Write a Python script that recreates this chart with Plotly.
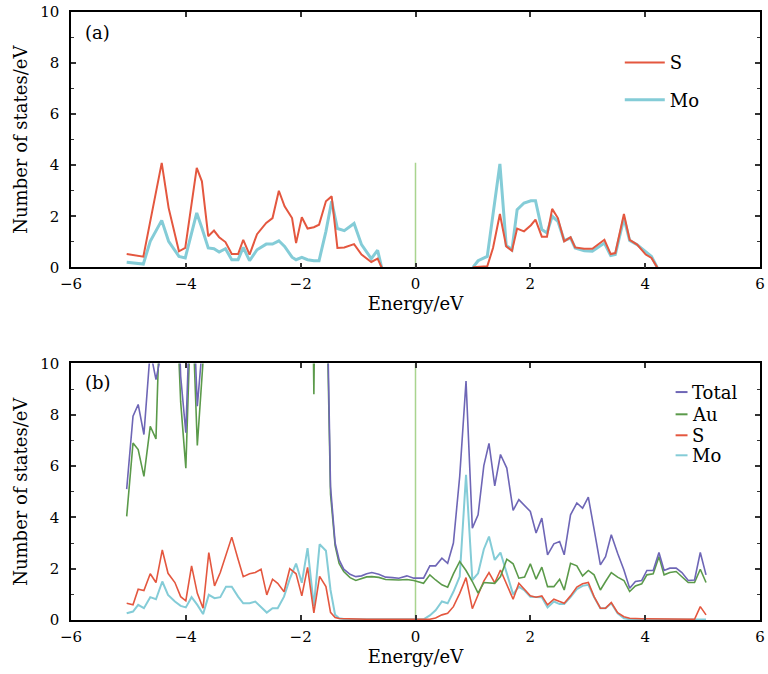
import plotly.graph_objects as go

# ---------------- Panel (a): MoS2 ----------------
ea_left = [-5.03, -4.74, -4.62, -4.42, -4.30, -4.12, -4.01, -3.81, -3.72, -3.61, -3.51, -3.42,
           -3.31, -3.20, -3.09, -3.00, -2.89, -2.76, -2.60, -2.49, -2.38, -2.28, -2.15, -2.08,
           -1.98, -1.88, -1.77, -1.68, -1.56, -1.46, -1.36, -1.24, -1.07, -0.94, -0.77, -0.66, -0.59]
s_a_left = [0.52, 0.42, 1.8, 4.09, 2.33, 0.63, 0.76, 3.9, 3.37, 1.22, 1.44, 1.18,
            0.99, 0.52, 0.52, 1.08, 0.5, 1.3, 1.74, 1.93, 3.0, 2.39, 1.93, 0.95,
            1.96, 1.52, 1.57, 1.67, 2.59, 2.78, 0.76, 0.78, 0.91, 0.5, 0.21, 0.34, 0.0]
mo_a_left = [0.2, 0.13, 1.02, 1.84, 1.02, 0.43, 0.37, 2.13, 1.54, 0.76, 0.73, 0.6,
             0.73, 0.3, 0.3, 0.78, 0.26, 0.69, 0.91, 0.91, 1.04, 0.82, 0.4, 0.3,
             0.39, 0.3, 0.26, 0.26, 1.41, 2.59, 1.52, 1.44, 1.72, 0.89, 0.34, 0.67, 0.0]

ea_right = [1.00, 1.09, 1.25, 1.35, 1.47, 1.58, 1.68, 1.77, 1.89, 2.01, 2.09, 2.20, 2.29, 2.38,
            2.48, 2.59, 2.70, 2.78, 2.94, 3.08, 3.29, 3.40, 3.48, 3.63, 3.73, 3.86, 4.01, 4.11, 4.21]
s_a_right = [0.0, 0.02, 0.04, 0.76, 2.09, 0.82, 0.65, 1.52, 1.41, 1.65, 1.87, 1.2, 1.2, 2.29,
             1.93, 1.02, 1.18, 0.78, 0.73, 0.73, 1.08, 0.52, 0.56, 2.09, 1.08, 0.89, 0.5, 0.37, 0.0]
mo_a_right = [0.0, 0.26, 0.43, 2.1, 4.05, 0.86, 0.69, 2.26, 2.52, 2.61, 2.61, 1.48, 1.35, 2.0,
              1.8, 1.05, 1.15, 0.76, 0.65, 0.63, 0.95, 0.46, 0.5, 1.93, 1.05, 0.89, 0.63, 0.43, 0.0]

fermi_x = [0, 0]
fermi_a = [0, 4.1]
fermi_b = [0, 10]

# ---------------- Panel (b): Au / MoS2 ----------------
eb = [-5.03, -4.92, -4.83, -4.73, -4.62, -4.52, -4.41, -4.31, -4.19, -4.09,
      -4.00, -3.90, -3.80, -3.70, -3.60, -3.50, -3.40, -3.30, -3.20, -3.09,
      -3.00, -2.89, -2.79, -2.69, -2.59, -2.49, -2.40, -2.29, -2.19, -2.08,
      -1.98, -1.88, -1.77, -1.67, -1.56, -1.48, -1.40, -1.33, -1.25, -1.14,
      -1.04, -0.94, -0.85, -0.76, -0.64, -0.52, -0.40, -0.29, -0.15, -0.03,
      0.14, 0.25, 0.35, 0.46, 0.56, 0.66, 0.77, 0.88, 0.99, 1.09,
      1.19, 1.28, 1.38, 1.48, 1.59, 1.70, 1.80, 1.90, 2.00, 2.10,
      2.20, 2.30, 2.41, 2.51, 2.59, 2.70, 2.81, 2.91, 3.01, 3.11,
      3.22, 3.31, 3.41, 3.52, 3.63, 3.73, 3.83, 3.94, 4.03, 4.14,
      4.24, 4.33, 4.43, 4.54, 4.64, 4.75, 4.86, 4.96, 5.06]

total_b = [5.1, 7.94, 8.4, 7.23, 10.5, 9.37, 10.6, 18, 16, 9.5,
           7.3, 14, 8.33, 11, 20, 22, 24, 22, 26, 24,
           22, 27, 24, 22, 26, 24, 27, 25, 22, 26,
           24, 33, 22, 33, 15, 5.2, 3.0, 2.34, 1.98, 1.78,
           1.69, 1.72, 1.8, 1.85, 1.78, 1.67, 1.65, 1.63, 1.72, 1.63,
           1.63, 2.11, 2.11, 2.41, 2.21, 3.0, 5.6, 9.31, 3.58, 4.1,
           6.02, 6.88, 5.23, 6.45, 5.92, 4.27, 4.69, 4.45, 4.23, 3.39,
           3.97, 2.54, 2.97, 3.06, 2.54, 4.1, 4.56, 4.36, 4.79, 3.54,
           2.15, 2.47, 3.32, 2.6, 1.95, 1.24, 1.5, 1.54, 1.93, 1.93,
           2.63, 1.93, 2.02, 2.02, 1.85, 1.54, 1.56, 2.63, 1.76]

au_b = [4.04, 6.9, 6.64, 5.6, 7.55, 7.06, 15, 16, 14, 8.5,
        5.92, 13, 6.8, 10.5, 16, 18, 20, 18, 22, 20,
        18, 22, 20, 18, 22, 20, 22, 20, 18, 22,
        20, 30, 8.8, 30, 14, 4.9, 2.9, 2.2, 1.89, 1.65,
        1.54, 1.6, 1.68, 1.69, 1.66, 1.58, 1.57, 1.56, 1.58, 1.54,
        1.43, 1.76, 1.56, 1.37, 1.28, 1.8, 2.28, 1.93, 1.5, 1.05,
        1.46, 1.45, 1.43, 1.69, 2.37, 2.19, 1.63, 1.67, 2.19, 1.59,
        2.06, 1.3, 1.3, 1.59, 1.17, 2.21, 2.11, 1.72, 1.93, 1.76,
        1.17, 1.5, 1.85, 1.67, 1.54, 1.11, 1.33, 1.41, 1.76, 1.8,
        2.47, 1.76, 1.85, 1.89, 1.69, 1.46, 1.46, 1.98, 1.46]

s_b = [0.65, 0.59, 1.2, 1.15, 1.8, 1.46, 2.73, 1.82, 1.46, 0.91,
       0.75, 2.11, 1.04, 0.46, 2.63, 1.33, 1.85, 2.55, 3.23, 2.37,
       1.69, 1.8, 1.85, 1.98, 0.98, 1.59, 1.43, 1.1, 2.0, 1.8,
       0.94, 2.05, 0.28, 1.7, 1.3, 0.3, 0.1, 0.06, 0.05, 0.04,
       0.04, 0.04, 0.03, 0.03, 0.03, 0.03, 0.03, 0.03, 0.03, 0.03,
       0.02, 0.03, 0.08, 0.2, 0.26, 0.52, 1.04, 1.65, 0.44, 0.95,
       1.52, 1.85, 1.45, 1.95, 1.39, 0.81, 1.43, 1.17, 0.94, 0.89,
       0.94, 0.59, 0.81, 0.72, 0.65, 0.94, 1.28, 1.41, 1.46, 0.91,
       0.46, 0.46, 0.68, 0.29, 0.13, 0.07, 0.05, 0.05, 0.05, 0.05,
       0.05, 0.05, 0.05, 0.05, 0.04, 0.04, 0.03, 0.52, 0.2]

mo_b = [0.26, 0.33, 0.59, 0.46, 0.89, 0.81, 1.5, 0.98, 0.72, 0.55,
        0.49, 0.89, 0.59, 0.23, 0.98, 0.85, 0.89, 1.3, 1.3, 0.91,
        0.65, 0.65, 0.72, 0.52, 0.29, 0.46, 0.46, 0.91, 1.6, 2.2,
        1.45, 2.8, 0.54, 2.95, 2.7, 1.17, 0.2, 0.07, 0.04, 0.03,
        0.03, 0.03, 0.02, 0.02, 0.02, 0.02, 0.02, 0.02, 0.02, 0.02,
        0.03, 0.18, 0.38, 0.72, 0.65, 1.1, 1.69, 5.66, 1.56, 1.82,
        2.76, 3.25, 2.34, 2.63, 1.82, 1.0, 1.3, 1.15, 0.91, 0.89,
        0.89, 0.49, 0.72, 0.62, 0.62, 0.89, 1.2, 1.33, 1.37, 0.89,
        0.46, 0.46, 0.65, 0.26, 0.07, 0.03, 0.02, 0.02, 0.02, 0.02,
        0.02, 0.02, 0.02, 0.02, 0.02, 0.02, 0.02, 0.02, 0.02]

x_ticks = [-6, -4, -2, 0, 2, 4, 6]
y_ticks = [0, 2, 4, 6, 8, 10]
legend_b_names = ["Total", "Au", "S", "Mo"]

C_S = "#e4573f"
C_MO = "#84ccd7"
C_TOT = "#6e66b6"
C_AU = "#5b9a4a"
C_FERMI = "#a9d48e"
legend_b_colors = [C_TOT, C_AU, C_S, C_MO]

FONT = "DejaVu Serif"

fig = go.Figure()

# Panel (a)
fig.add_trace(go.Scatter(x=fermi_x, y=fermi_a, mode="lines", line=dict(color=C_FERMI, width=1.5),
                         xaxis="x", yaxis="y", showlegend=False, hoverinfo="skip"))
fig.add_trace(go.Scatter(x=ea_left + [None] + ea_right, y=mo_a_left + [None] + mo_a_right,
                         mode="lines", line=dict(color=C_MO, width=3), name="Mo",
                         xaxis="x", yaxis="y", legend="legend", legendgroup="amo", legendrank=2))
fig.add_trace(go.Scatter(x=ea_left + [None] + ea_right, y=s_a_left + [None] + s_a_right,
                         mode="lines", line=dict(color=C_S, width=2), name="S",
                         xaxis="x", yaxis="y", legend="legend", legendgroup="as", legendrank=1))

# Panel (b)
fig.add_trace(go.Scatter(x=fermi_x, y=fermi_b, mode="lines", line=dict(color=C_FERMI, width=1.5),
                         xaxis="x2", yaxis="y2", showlegend=False, hoverinfo="skip"))
fig.add_trace(go.Scatter(x=eb, y=mo_b, mode="lines", line=dict(color=C_MO, width=2), name="Mo",
                         xaxis="x2", yaxis="y2", showlegend=False))
fig.add_trace(go.Scatter(x=eb, y=s_b, mode="lines", line=dict(color=C_S, width=1.6), name="S",
                         xaxis="x2", yaxis="y2", showlegend=False))
fig.add_trace(go.Scatter(x=eb, y=au_b, mode="lines", line=dict(color=C_AU, width=1.6), name="Au",
                         xaxis="x2", yaxis="y2", showlegend=False))
fig.add_trace(go.Scatter(x=eb, y=total_b, mode="lines", line=dict(color=C_TOT, width=1.6), name="Total",
                         xaxis="x2", yaxis="y2", showlegend=False))

axis_common = dict(
    showline=True, linecolor="black", linewidth=1.5, mirror="ticks",
    ticks="inside", ticklen=5, tickwidth=1.5, tickcolor="#333",
    showgrid=False, zeroline=False,
    tickfont=dict(family=FONT, size=15, color="black"),
)
xcommon = dict(axis_common, range=[-6, 6], tickmode="array", tickvals=x_ticks,
               ticklabeloverflow="allow", ticklabelstandoff=2,
               title=dict(text="Energy/eV", font=dict(family=FONT, size=18, color="black"), standoff=5))
ycommon = dict(axis_common, range=[0, 10], tickmode="array", tickvals=y_ticks,
               ticklabelstandoff=7,
               minor=dict(dtick=1, ticks="inside", ticklen=3, tickcolor="#333", tickwidth=1.2),
               title=dict(text="Number of states/eV", font=dict(family=FONT, size=18, color="black"), standoff=8))

# manual legend for panel (b): short keys + labels (paper coordinates)
leg_rows = [0.3749, 0.3383, 0.3038, 0.2709]
shapes = []
annotations = [
    dict(text="(a)", x=0.018, y=0.92, xref="x domain", yref="y domain",
         xanchor="left", yanchor="middle", showarrow=False,
         font=dict(family=FONT, size=18, color="black")),
    dict(text="(b)", x=0.018, y=0.925, xref="x2 domain", yref="y2 domain",
         xanchor="left", yanchor="middle", showarrow=False,
         font=dict(family=FONT, size=18, color="black")),
]
for name, col, yy in zip(legend_b_names, legend_b_colors, leg_rows):
    shapes.append(dict(type="line", xref="paper", yref="paper", x0=0.8775, x1=0.8948, y0=yy, y1=yy,
                       line=dict(color=col, width=2)))
    annotations.append(dict(text=name, x=0.899, y=yy, xref="paper", yref="paper",
                            xanchor="left", yanchor="middle", showarrow=False,
                            font=dict(family=FONT, size=18, color="black")))

fig.update_layout(
    width=768, height=674,
    margin=dict(l=71, r=3, t=11, b=54),
    paper_bgcolor="white", plot_bgcolor="white",
    font=dict(family=FONT, size=18, color="black"),
    xaxis=dict(xcommon, domain=[0, 1], anchor="y"),
    yaxis=dict(ycommon, domain=[0.58, 1.0], anchor="x"),
    xaxis2=dict(xcommon, domain=[0, 1], anchor="y2"),
    yaxis2=dict(ycommon, domain=[0.0, 0.422], anchor="x2"),
    legend=dict(x=0.7965, y=0.947, xanchor="left", yanchor="top", bgcolor="rgba(0,0,0,0)",
                font=dict(family=FONT, size=18, color="black"), tracegroupgap=11,
                itemwidth=40),
    shapes=shapes,
    annotations=annotations,
)

fig.write_html("out.html", config={"displayModeBar": False},
               post_script="document.body.style.margin='0px';document.body.style.overflow='hidden';")
